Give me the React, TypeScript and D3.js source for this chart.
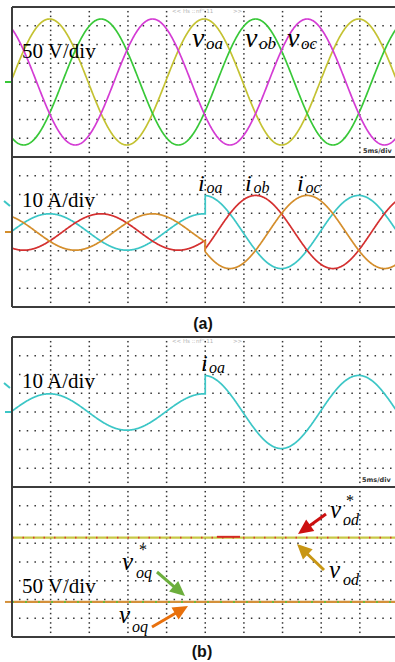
import React from 'react';
import * as d3 from 'd3';

const W = 395;
const H = 662;

// Scope screen: 10 x 8 divisions, 5 ms/div
const DIVS_X = 10;
const DIVS_Y = 8;
const MS_PER_DIV = 5;

// Three-phase output (a, b, c)
const phases = ['a', 'b', 'c'];
const periodMs = 20;
const phaseShiftMs = [0, 20 / 3, 40 / 3];
const firstPeakMs = 4.85;
const voltagePeakV = [168, 168, 168];
const currentPeakBeforeA = [9.7, 9.7, 9.7];
const currentPeakAfterA = [19.5, 19.5, 19.5];
const loadStepMs = 25;

// dq voltage traces (screen level incl. channel offset), 50 V/div
const vodLevelV = 65;
const voqLevelV = -106.5;

const voltColors = ['#c4c232', '#38c838', '#d43cd4'];
const currColors = ['#3cc6c6', '#d43030', '#d48e2c'];

// Layout
const X0 = 12;
const DX = 38.65;
const DY = 18.75;
const PANEL_H = DY * DIVS_Y;
const panelTops = { aV: 7, aI: 157, bI: 337, bDQ: 487 };

const x = d3.scaleLinear().domain([0, DIVS_X * MS_PER_DIV]).range([X0, X0 + DIVS_X * DX]);
const yScale = (top: number, perDiv: number) =>
  d3.scaleLinear().domain([-(DIVS_Y / 2) * perDiv, (DIVS_Y / 2) * perDiv]).range([top + PANEL_H, top]);

const times = d3.range(0, DIVS_X * MS_PER_DIV + 0.001, 0.05);
const sinAt = (t: number, k: number, amp: number) =>
  amp * Math.cos((2 * Math.PI * (t - firstPeakMs - phaseShiftMs[k])) / periodMs);

type Pt = { t: number; v: number };

const voltageSeries = (k: number): Pt[] => times.map((t) => ({ t, v: sinAt(t, k, voltagePeakV[k]) }));
const currentSeries = (k: number): Pt[] => {
  const before = times.filter((t) => t < loadStepMs).map((t) => ({ t, v: sinAt(t, k, currentPeakBeforeA[k]) }));
  before.push({ t: loadStepMs, v: sinAt(loadStepMs, k, currentPeakBeforeA[k]) });
  const after = times.filter((t) => t >= loadStepMs).map((t) => ({ t, v: sinAt(t, k, currentPeakAfterA[k]) }));
  return before.concat(after);
};

function Grid({ top }: { top: number }) {
  const dots: JSX.Element[] = [];
  for (let r = 1; r < DIVS_Y; r++) {
    for (let j = 1; j < DIVS_X * 5; j++) {
      dots.push(<rect key={`h${r}-${j}`} x={X0 + (j * DX) / 5 - 0.75} y={top + r * DY - 0.75} width={1.5} height={1.5} fill="#333" />);
    }
  }
  for (let c = 1; c < DIVS_X; c++) {
    for (let m = 1; m < DIVS_Y * 4; m++) {
      if (m % 4 === 0) continue;
      dots.push(<rect key={`v${c}-${m}`} x={X0 + c * DX - 0.75} y={top + (m * DY) / 4 - 0.75} width={1.5} height={1.5} fill="#333" />);
    }
  }
  return <g>{dots}</g>;
}

function Frame({ top }: { top: number }) {
  return (
    <g stroke="#3c3c3c" strokeWidth={2} fill="none">
      <line x1={X0} x2={W} y1={top} y2={top} />
      <line x1={X0} x2={W} y1={top + PANEL_H} y2={top + PANEL_H} />
      <line x1={X0} x2={X0} y1={top} y2={top + 2 * PANEL_H} />
      <line x1={X0} x2={W} y1={top + 2 * PANEL_H} y2={top + 2 * PANEL_H} />
    </g>
  );
}

function Sym({ x, y, main, sub, mainSize, subSize, subDx, subDy, star, starDx, starDy }: any) {
  return (
    <g fontFamily="'Liberation Serif', 'Times New Roman', serif" fill="#000">
      <text x={x} y={y} fontSize={mainSize} fontStyle="italic">{main}</text>
      <text x={x + subDx} y={y + subDy} fontSize={subSize} fontStyle="italic">{sub}</text>
      {star ? <text x={x + starDx} y={y + starDy} fontSize={16}>*</text> : null}
    </g>
  );
}

function Arrow({ x1, y1, x2, y2, color }: any) {
  const ang = Math.atan2(y2 - y1, x2 - x1);
  const L = 15;
  const Wd = 7;
  const bx = x2 - L * Math.cos(ang);
  const by = y2 - L * Math.sin(ang);
  const px = -Math.sin(ang) * Wd;
  const py = Math.cos(ang) * Wd;
  return (
    <g>
      <line x1={x1} y1={y1} x2={bx + 2 * Math.cos(ang)} y2={by + 2 * Math.sin(ang)} stroke={color} strokeWidth={3} />
      <path d={`M${x2},${y2}L${bx + px},${by + py}L${bx - px},${by - py}Z`} fill={color} />
    </g>
  );
}

function DivLabel({ y, text }: { y: number; text: string }) {
  return (
    <text x={22} y={y} fontSize={21} fontFamily="'Liberation Serif', 'Times New Roman', serif" fill="#000">
      {text}
    </text>
  );
}

function ScopeInfo({ top }: { top: number }) {
  return (
    <g fontFamily="'DejaVu Sans', sans-serif" fill="#b4b4b4" fontSize={5.5}>
      <text x={172} y={top + 6}>{'<< Hs ::'}</text>
      <text x={196} y={top + 6}>{"nf'' 11"}</text>
      <text x={233} y={top + 6}>{'>>'}</text>
    </g>
  );
}

export default function App() {
  const yAV = yScale(panelTops.aV, 50);
  const yAI = yScale(panelTops.aI, 10);
  const yBI = yScale(panelTops.bI, 10);
  const yBDQ = yScale(panelTops.bDQ, 50);

  const mk = (ys: d3.ScaleLinear<number, number>) =>
    d3.line<Pt>().x((d) => x(d.t)).y((d) => ys(d.v));

  const lineAV = mk(yAV);
  const lineAI = mk(yAI);
  const lineBI = mk(yBI);

  const tEnd = DIVS_X * MS_PER_DIV;

  return (
    <svg width={W} height={H} style={{ position: 'absolute', left: 0, top: 0, background: '#fff' }}>
      <defs>
        <clipPath id="screenA">
          <rect x={X0} y={panelTops.aV} width={W - X0} height={2 * PANEL_H} />
        </clipPath>
        <clipPath id="screenB">
          <rect x={X0} y={panelTops.bI} width={W - X0} height={2 * PANEL_H} />
        </clipPath>
      </defs>

      {Object.values(panelTops).map((t) => (
        <Grid key={t} top={t} />
      ))}

      {/* (a) voltages and currents */}
      <g clipPath="url(#screenA)" fill="none" strokeWidth={1.7}>
        {phases.map((p, k) => (
          <path key={`v${p}`} d={lineAV(voltageSeries(k)) || ''} stroke={voltColors[k]} />
        ))}
        {phases.map((p, k) => (
          <path key={`i${p}`} d={lineAI(currentSeries(k)) || ''} stroke={currColors[k]} />
        ))}
      </g>

      {/* (b) current of phase a and dq voltages */}
      <g clipPath="url(#screenB)" fill="none">
        <path d={lineBI(currentSeries(0)) || ''} stroke={currColors[0]} strokeWidth={1.7} />
        <line x1={x(0)} x2={x(tEnd)} y1={yBDQ(vodLevelV)} y2={yBDQ(vodLevelV)} stroke="#c8c846" strokeWidth={2.2} />
        <line x1={x(0)} x2={x(tEnd)} y1={yBDQ(vodLevelV)} y2={yBDQ(vodLevelV)} stroke="#d83a30" strokeWidth={1.6} strokeDasharray="1.5 9" />
        <line x1={x(26.5)} x2={x(29.5)} y1={yBDQ(vodLevelV) - 0.8} y2={yBDQ(vodLevelV) - 0.8} stroke="#d42a22" strokeWidth={2} />
        <line x1={x(0)} x2={x(tEnd)} y1={yBDQ(voqLevelV)} y2={yBDQ(voqLevelV)} stroke="#d4903a" strokeWidth={2.2} />
        <line x1={x(0)} x2={x(tEnd)} y1={yBDQ(voqLevelV)} y2={yBDQ(voqLevelV)} stroke="#4cc43a" strokeWidth={1.6} strokeDasharray="2 11" />
      </g>

      {/* channel markers */}
      <g strokeWidth={2} fill="none">
        <line x1={5} x2={X0} y1={yAV(0)} y2={yAV(0)} stroke={voltColors[1]} />
        <line x1={4} x2={10} y1={201} y2={206} stroke={currColors[0]} />
        <line x1={5} x2={X0} y1={yAI(0)} y2={yAI(0)} stroke={currColors[2]} />
        <line x1={4} x2={10} y1={383} y2={388} stroke={currColors[0]} />
        <line x1={5} x2={X0} y1={yBI(0)} y2={yBI(0)} stroke={currColors[0]} />
        <line x1={5} x2={X0} y1={yBDQ(voqLevelV)} y2={yBDQ(voqLevelV)} stroke="#d4903a" />
      </g>

      <Frame top={panelTops.aV} />
      <Frame top={panelTops.bI} />

      <ScopeInfo top={panelTops.aV} />
      <ScopeInfo top={panelTops.bI} />
      <g fontFamily="'DejaVu Sans', sans-serif" fontSize={6.5} fontWeight="bold" fill="#333">
        <text x={363} y={153}>5ms/div</text>
        <text x={362} y={482}>5ms/div</text>
      </g>

      <DivLabel y={58} text="50 V/div" />
      <DivLabel y={207} text="10 A/div" />
      <DivLabel y={388} text="10 A/div" />
      <DivLabel y={593} text="50 V/div" />

      {/* phase labels */}
      {[192, 245, 287].map((vx, k) => (
        <Sym key={`lv${k}`} x={vx} y={47} main="v" sub={`o${phases[k]}`} mainSize={28} subSize={17} subDx={14} subDy={2} />
      ))}
      {[198, 245, 297].map((ix, k) => (
        <Sym key={`li${k}`} x={ix} y={191} main="i" sub={`o${phases[k]}`} mainSize={24} subSize={16} subDx={8.5} subDy={2} />
      ))}
      <Sym x={201} y={371} main="i" sub="oa" mainSize={24} subSize={16} subDx={8} subDy={2} />

      <Sym x={122} y={570} main="v" sub="oq" mainSize={25} subSize={16} subDx={14} subDy={8} star starDx={17} starDy={-15} />
      <Sym x={119} y={623} main="v" sub="oq" mainSize={25} subSize={16} subDx={13} subDy={9} />
      <Sym x={330} y={518} main="v" sub="od" mainSize={25} subSize={16} subDx={13} subDy={7} star starDx={16} starDy={-12} />
      <Sym x={329} y={578} main="v" sub="od" mainSize={25} subSize={16} subDx={14} subDy={7} />

      <Arrow x1={326} y1={514} x2={298} y2={534} color="#cc1010" />
      <Arrow x1={324} y1={570} x2={297} y2={544} color="#c89614" />
      <Arrow x1={157} y1={572} x2={185} y2={596} color="#6cae3c" />
      <Arrow x1={152} y1={627} x2={188} y2={606} color="#e8700c" />

      <g fontFamily="'Liberation Sans', Arial, sans-serif" fontWeight="bold" fontSize={16} fill="#111" textAnchor="middle">
        <text x={203} y={329}>(a)</text>
        <text x={202} y={657}>(b)</text>
      </g>
    </svg>
  );
}
